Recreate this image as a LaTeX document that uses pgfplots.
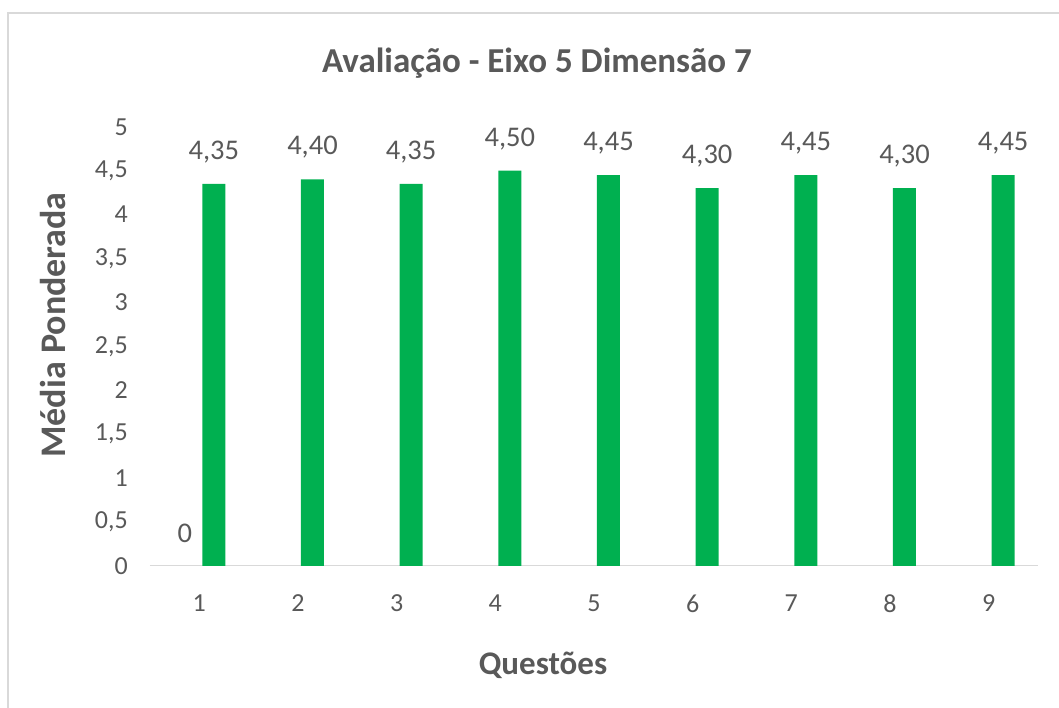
\documentclass[border=0pt]{standalone}
\usepackage{pgfplots}
\pgfplotsset{compat=1.18}
\usepackage{fontspec}
\setmainfont{Carlito}
\definecolor{barg}{HTML}{00B050}
\definecolor{txt}{HTML}{595959}
\definecolor{grid}{HTML}{D9D9D9}

\begin{document}
\begin{tikzpicture}[x=1pt,y=1pt]
\useasboundingbox (0,0) rectangle (1059,708);
\draw[grid, line width=2pt] (8,0) -- (8,695) -- (1059,695);
\node[text=txt, font=\fontsize{35}{42}\selectfont\bfseries] at (537,645) {Avaliação - Eixo 5 Dimensão 7};
\node[text=txt, font=\fontsize{33}{40}\selectfont\bfseries] at (543,43) {Questões};
\node[text=txt, font=\fontsize{36}{43}\selectfont\bfseries, rotate=90] at (53,383) {Média Ponderada};
\begin{axis}[
  at={(152,162)}, anchor=south west,
  scale only axis, width=888pt, height=439pt,
  xmin=0.5, xmax=9.5, ymin=0, ymax=5,
  xtick={1,...,9}, ytick={0,0.5,...,5},
  axis lines*=left,
  y axis line style={draw=none},
  x axis line style={grid, line width=1.2pt},
  major tick length=0pt,
  /pgf/number format/.cd, use comma, 1000 sep={}, assume math mode=true,
  /pgfplots/.cd,
  ticklabel style={font=\fontsize{26}{30}\selectfont, text=txt, inner sep=0pt},
  yticklabel style={anchor=east, xshift=-22pt},
  xticklabel style={anchor=north, yshift=-29pt},
  ybar, bar width=23pt,
  nodes near coords style={font=\fontsize{28.5}{34}\selectfont, text=txt, anchor=center, yshift=32pt},
]
\addplot[fill=barg, draw=none, bar shift=14.5pt,
  nodes near coords={\pgfmathprintnumber[fixed,fixed zerofill,precision=2,use comma]{\pgfplotspointmeta}}]
  coordinates {(1,4.35) (2,4.40) (3,4.35) (4,4.50) (5,4.45) (6,4.30) (7,4.45) (8,4.30) (9,4.45)};
\addplot[fill=none, draw=none, bar shift=-14.5pt, nodes near coords={0}]
  coordinates {(1,0)};
\end{axis}
\end{tikzpicture}
\end{document}
